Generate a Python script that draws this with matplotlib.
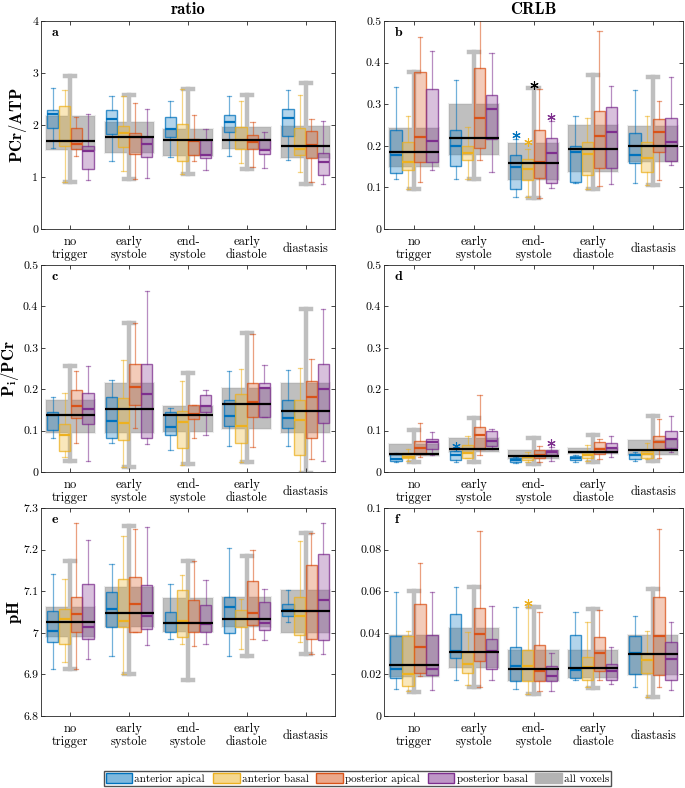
import numpy as np
import matplotlib
matplotlib.use("Agg")
import matplotlib.pyplot as plt
from matplotlib.colors import to_rgba
from matplotlib.patches import Patch
from matplotlib.ticker import FuncFormatter

plt.rcParams['font.family'] = 'serif'
plt.rcParams['font.serif'] = ['cmr10']
plt.rcParams['mathtext.fontset'] = 'cm'
plt.rcParams['axes.formatter.use_mathtext'] = True

triggers = ["no\ntrigger", "early\nsystole", "end-\nsystole", "early\ndiastole", "diastasis"]
regions = ["anterior apical", "anterior basal", "posterior apical", "posterior basal", "all voxels"]
colors = ["#0072BD", "#EDB120", "#D95319", "#7E2F8E"]

# rows = triggers, columns = lower whisker, q1, median, q3, upper whisker
# a: PCr/ATP ratio
a_ant_apical = [[1.56, 1.94, 2.22, 2.29, 2.71], [1.31, 1.83, 2.11, 2.28, 2.56], [1.39, 1.77, 1.93, 2.16, 2.46],
                [1.40, 1.86, 2.05, 2.19, 2.56], [1.32, 1.78, 2.14, 2.30, 2.67]]
a_ant_basal = [[0.91, 1.60, 1.69, 2.37, 2.67], [1.11, 1.57, 1.84, 1.99, 2.56], [1.06, 1.31, 1.72, 2.01, 2.69],
               [1.26, 1.54, 1.71, 1.96, 2.46], [1.10, 1.43, 1.54, 1.94, 2.58]]
a_post_apical = [[1.40, 1.53, 1.63, 1.94, 2.16], [0.97, 1.45, 1.76, 1.85, 2.42], [1.30, 1.42, 1.69, 1.74, 2.19],
                 [1.19, 1.54, 1.68, 1.81, 2.06], [0.91, 1.37, 1.62, 1.89, 2.12]]
a_post_basal = [[0.94, 1.15, 1.50, 1.59, 2.22], [0.99, 1.38, 1.63, 1.76, 2.30], [1.14, 1.37, 1.42, 1.71, 1.92],
                [1.17, 1.44, 1.52, 1.74, 1.87], [0.87, 1.04, 1.28, 1.47, 2.08]]
a_all = [[0.91, 1.52, 1.69, 2.17, 2.95], [0.96, 1.47, 1.76, 2.06, 2.58], [1.06, 1.41, 1.71, 1.93, 2.69],
         [1.16, 1.53, 1.72, 1.96, 2.57], [0.87, 1.36, 1.60, 1.98, 2.81]]

# b: CRLB of PCr/ATP
b_ant_apical = [[0.119, 0.135, 0.177, 0.238, 0.341], [0.120, 0.152, 0.200, 0.238, 0.358], [0.078, 0.096, 0.150, 0.177, 0.216],
                [0.110, 0.114, 0.185, 0.200, 0.272], [0.110, 0.159, 0.177, 0.230, 0.333]]
b_ant_basal = [[0.095, 0.141, 0.161, 0.208, 0.272], [0.120, 0.167, 0.183, 0.200, 0.244], [0.078, 0.118, 0.145, 0.169, 0.192],
               [0.095, 0.131, 0.181, 0.208, 0.266], [0.106, 0.136, 0.170, 0.208, 0.272]]
b_post_apical = [[0.114, 0.160, 0.220, 0.377, 0.462], [0.167, 0.194, 0.268, 0.386, 0.520], [0.074, 0.123, 0.160, 0.238, 0.336],
                 [0.103, 0.147, 0.224, 0.284, 0.476], [0.118, 0.186, 0.232, 0.264, 0.307]]
b_post_basal = [[0.142, 0.160, 0.212, 0.336, 0.429], [0.138, 0.216, 0.288, 0.323, 0.424], [0.098, 0.111, 0.182, 0.219, 0.260],
                [0.108, 0.147, 0.232, 0.294, 0.344], [0.154, 0.164, 0.208, 0.266, 0.366]]
b_all = [[0.095, 0.150, 0.186, 0.243, 0.378], [0.120, 0.179, 0.218, 0.300, 0.425], [0.074, 0.118, 0.158, 0.206, 0.340],
         [0.095, 0.138, 0.193, 0.250, 0.370], [0.106, 0.162, 0.200, 0.248, 0.366]]
b_fliers = [(2, 0, 0.226), (2, 1, 0.210), (2, 3, 0.270), (2, 4, 0.346)]

# c: Pi/PCr ratio
c_ant_apical = [[0.082, 0.102, 0.138, 0.144, 0.181], [0.071, 0.082, 0.124, 0.180, 0.223], [0.054, 0.090, 0.109, 0.144, 0.155],
                [0.064, 0.110, 0.135, 0.173, 0.244], [0.063, 0.107, 0.131, 0.173, 0.246]]
c_ant_basal = [[0.036, 0.050, 0.090, 0.115, 0.192], [0.011, 0.078, 0.119, 0.179, 0.270], [0.016, 0.059, 0.120, 0.148, 0.219],
               [0.024, 0.069, 0.112, 0.188, 0.250], [-0.002, 0.042, 0.125, 0.173, 0.252]]
c_post_apical = [[0.071, 0.131, 0.160, 0.197, 0.244], [0.107, 0.163, 0.206, 0.262, 0.359], [0.081, 0.129, 0.139, 0.163, 0.163],
                 [0.061, 0.134, 0.168, 0.216, 0.334], [0.031, 0.083, 0.180, 0.219, 0.273]]
c_post_basal = [[0.026, 0.115, 0.151, 0.192, 0.255], [0.068, 0.083, 0.188, 0.260, 0.437], [0.089, 0.144, 0.159, 0.185, 0.199],
                [0.134, 0.134, 0.203, 0.216, 0.259], [0.027, 0.119, 0.201, 0.262, 0.393]]
c_all = [[0.026, 0.094, 0.138, 0.174, 0.256], [0.011, 0.093, 0.151, 0.215, 0.361], [0.019, 0.097, 0.137, 0.160, 0.238],
         [0.024, 0.105, 0.165, 0.202, 0.336], [-0.002, 0.093, 0.148, 0.215, 0.393]]

# d: CRLB of Pi/PCr
d_ant_apical = [[0.024, 0.027, 0.032, 0.043, 0.046], [0.025, 0.028, 0.042, 0.050, 0.050], [0.022, 0.023, 0.028, 0.035, 0.037],
                [0.023, 0.030, 0.034, 0.039, 0.040], [0.026, 0.032, 0.040, 0.044, 0.048]]
d_ant_basal = [[0.027, 0.033, 0.037, 0.045, 0.056], [0.035, 0.035, 0.046, 0.066, 0.086], [0.025, 0.030, 0.036, 0.041, 0.048],
               [0.026, 0.034, 0.042, 0.048, 0.066], [0.031, 0.035, 0.044, 0.050, 0.069]]
d_post_apical = [[0.036, 0.043, 0.059, 0.075, 0.119], [0.040, 0.056, 0.090, 0.109, 0.187], [0.023, 0.035, 0.041, 0.052, 0.063],
                 [0.031, 0.043, 0.056, 0.072, 0.079], [0.035, 0.055, 0.072, 0.088, 0.127]]
d_post_basal = [[0.040, 0.056, 0.072, 0.080, 0.097], [0.055, 0.063, 0.074, 0.098, 0.104], [0.027, 0.040, 0.048, 0.053, 0.060],
                [0.037, 0.048, 0.059, 0.071, 0.088], [0.048, 0.057, 0.080, 0.100, 0.135]]
d_all = [[0.023, 0.038, 0.044, 0.067, 0.101], [0.025, 0.048, 0.056, 0.082, 0.131], [0.020, 0.031, 0.039, 0.052, 0.083],
         [0.024, 0.044, 0.048, 0.058, 0.089], [0.026, 0.040, 0.052, 0.077, 0.135]]
d_fliers = [(1, 0, 0.063), (2, 3, 0.070)]

# e: pH
e_ant_apical = [[6.913, 6.978, 7.004, 7.053, 7.142], [6.945, 7.013, 7.057, 7.099, 7.165], [6.985, 7.003, 7.024, 7.049, 7.117],
                [6.945, 6.999, 7.063, 7.085, 7.204], [7.027, 7.040, 7.055, 7.070, 7.103]]
e_ant_basal = [[6.930, 6.974, 7.033, 7.057, 7.129], [6.900, 7.013, 7.029, 7.129, 7.233], [6.973, 6.991, 7.029, 7.103, 7.138],
               [6.962, 7.015, 7.033, 7.056, 7.081], [6.977, 6.995, 7.041, 7.087, 7.220]]
e_post_apical = [[6.913, 7.002, 7.044, 7.085, 7.263], [7.003, 7.003, 7.069, 7.134, 7.249], [6.968, 7.001, 7.024, 7.078, 7.172],
                 [6.986, 7.019, 7.047, 7.125, 7.198], [6.948, 6.984, 7.052, 7.162, 7.240]]
e_post_basal = [[6.936, 6.986, 7.015, 7.117, 7.222], [6.970, 7.008, 7.041, 7.114, 7.255], [6.973, 7.003, 7.020, 7.067, 7.126],
                [6.982, 7.007, 7.024, 7.073, 7.106], [6.948, 6.982, 7.079, 7.189, 7.263]]
e_all = [[6.912, 6.989, 7.027, 7.061, 7.173], [6.900, 7.013, 7.048, 7.111, 7.257], [6.886, 7.003, 7.024, 7.083, 7.173],
         [6.945, 7.015, 7.033, 7.085, 7.185], [6.948, 7.000, 7.052, 7.103, 7.240]]

# f: CRLB of pH
f_ant_apical = [[0.0132, 0.0185, 0.0228, 0.0384, 0.0598], [0.0175, 0.0281, 0.0312, 0.0490, 0.0622], [0.0132, 0.0169, 0.0241, 0.0334, 0.0522],
                [0.0172, 0.0185, 0.0219, 0.0391, 0.0502], [0.0140, 0.0204, 0.0305, 0.0387, 0.0481]]
f_ant_basal = [[0.0119, 0.0145, 0.0203, 0.0384, 0.0408], [0.0151, 0.0209, 0.0251, 0.0309, 0.0405], [0.0108, 0.0169, 0.0241, 0.0317, 0.0522],
               [0.0140, 0.0175, 0.0236, 0.0286, 0.0453], [0.0092, 0.0207, 0.0268, 0.0301, 0.0408]]
f_post_apical = [[0.0191, 0.0207, 0.0330, 0.0537, 0.0735], [0.0140, 0.0265, 0.0394, 0.0521, 0.0891], [0.0121, 0.0169, 0.0214, 0.0339, 0.0500],
                 [0.0175, 0.0215, 0.0304, 0.0378, 0.0510], [0.0140, 0.0199, 0.0386, 0.0574, 0.0899]]
f_post_basal = [[0.0124, 0.0195, 0.0228, 0.0391, 0.0598], [0.0175, 0.0228, 0.0312, 0.0371, 0.0531], [0.0119, 0.0166, 0.0193, 0.0241, 0.0304],
                [0.0156, 0.0175, 0.0215, 0.0252, 0.0330], [0.0127, 0.0175, 0.0273, 0.0357, 0.0453]]
f_all = [[0.0116, 0.0188, 0.0244, 0.0389, 0.0601], [0.0140, 0.0233, 0.0309, 0.0421, 0.0622], [0.0105, 0.0169, 0.0225, 0.0317, 0.0522],
         [0.0137, 0.0185, 0.0233, 0.0317, 0.0514], [0.0092, 0.0199, 0.0296, 0.0389, 0.0611]]
f_fliers = [(2, 1, 0.0542)]

ASTERISK = (6, 2, 0)


def to_stats(rows, fliers, k):
    stats = []
    for i, (lo, q1, med, q3, hi) in enumerate(rows):
        fl = [v for (g, s, v) in fliers if g == i and s == k]
        stats.append(dict(whislo=lo, q1=q1, med=med, q3=q3, whishi=hi, fliers=fl))
    return stats


def draw_panel(ax, series, all_rows, fliers, ylim, yticks, letter):
    pos = np.arange(1, 6)
    # all voxels: wide grey box behind
    ax.bxp(to_stats(all_rows, fliers, 4), positions=pos, widths=0.84, patch_artist=True,
           manage_ticks=False, capwidths=0.17,
           boxprops=dict(facecolor=to_rgba('0.5', 0.5), edgecolor=to_rgba('0.5', 0.15), linewidth=1.5, zorder=1),
           medianprops=dict(color='k', linewidth=1.6, zorder=5),
           whiskerprops=dict(color='0.75', linewidth=3.2, zorder=1.5),
           capprops=dict(color='0.75', linewidth=3.2, zorder=1.5),
           flierprops=dict(marker=ASTERISK, markeredgecolor='k', markersize=6, markeredgewidth=0.8,
                           linestyle='none'))
    offsets = [-0.3, -0.1, 0.1, 0.3]
    for k, rows in enumerate(series):
        c = colors[k]
        ax.bxp(to_stats(rows, fliers, k), positions=pos + offsets[k], widths=0.19, patch_artist=True,
               manage_ticks=False, capwidths=0.075,
               boxprops=dict(facecolor=to_rgba(c, 0.3), edgecolor=to_rgba(c, 0.75), linewidth=1.0, zorder=3),
               medianprops=dict(color=c, linewidth=1.6, zorder=4),
               whiskerprops=dict(color=to_rgba(c, 0.55), linewidth=0.9, zorder=2),
               capprops=dict(color=to_rgba(c, 0.55), linewidth=0.9, zorder=2),
               flierprops=dict(marker=ASTERISK, markeredgecolor=c, markersize=6, markeredgewidth=0.8,
                               linestyle='none'))
    ax.set_xlim(0.5, 5.5)
    ax.set_ylim(*ylim)
    ax.set_yticks(yticks)
    ax.yaxis.set_major_formatter(FuncFormatter(lambda v, p: f"{v:g}"))
    ax.set_xticks(pos)
    ax.set_xticklabels(triggers, fontsize=9, linespacing=1.15, va='center')
    ax.tick_params(axis='x', pad=14)
    ax.tick_params(axis='y', labelsize=8.5, pad=2)
    ax.tick_params(direction='in', top=True, right=True, length=3, width=0.6, color='#262626')
    for sp in ax.spines.values():
        sp.set_color('#262626')
        sp.set_linewidth(0.6)
    ax.text(0.035, 0.94, letter, transform=ax.transAxes, fontsize=10, fontname='cmb10',
            ha='left', va='center', zorder=6)


fig = plt.figure(figsize=(6.85, 7.88), dpi=100)
W, H = 685.0, 788.0
rows_px = [(21, 229), (265, 472), (508, 716)]
cols_px = [(41, 335), (384, 683)]
axes = {}
for r, (t, b) in enumerate(rows_px):
    for c, (l, rr) in enumerate(cols_px):
        axes[(r, c)] = fig.add_axes([l / W, 1 - b / H, (rr - l) / W, (b - t) / H])

draw_panel(axes[(0, 0)], [a_ant_apical, a_ant_basal, a_post_apical, a_post_basal], a_all, [],
           (0, 4), [0, 1, 2, 3, 4], 'a')
draw_panel(axes[(0, 1)], [b_ant_apical, b_ant_basal, b_post_apical, b_post_basal], b_all, b_fliers,
           (0, 0.5), np.arange(0, 0.51, 0.1), 'b')
draw_panel(axes[(1, 0)], [c_ant_apical, c_ant_basal, c_post_apical, c_post_basal], c_all, [],
           (0, 0.5), np.arange(0, 0.51, 0.1), 'c')
draw_panel(axes[(1, 1)], [d_ant_apical, d_ant_basal, d_post_apical, d_post_basal], d_all, d_fliers,
           (0, 0.5), np.arange(0, 0.51, 0.1), 'd')
draw_panel(axes[(2, 0)], [e_ant_apical, e_ant_basal, e_post_apical, e_post_basal], e_all, [],
           (6.8, 7.3), np.arange(6.8, 7.31, 0.1), 'e')
draw_panel(axes[(2, 1)], [f_ant_apical, f_ant_basal, f_post_apical, f_post_basal], f_all, f_fliers,
           (0, 0.1), np.arange(0, 0.101, 0.02), 'f')

axes[(0, 0)].set_title('ratio', fontname='cmb10', fontsize=12, pad=5)
axes[(0, 1)].set_title('CRLB', fontname='cmb10', fontsize=12, pad=5)

ylabels = [(0, r'$\mathbf{PCr/ATP}$', -0.077), (1, r'$\mathbf{P_i/PCr}$', -0.104), (2, r'$\mathbf{pH}$', -0.09)]
for r, lab, x in ylabels:
    ax = axes[(r, 0)]
    ax.set_ylabel(lab, fontsize=12, va='center')
    ax.yaxis.set_label_coords(x, 0.5)

handles = [Patch(facecolor=to_rgba(c, 0.5), edgecolor=c, linewidth=1.0) for c in colors]
handles.append(Patch(facecolor='0.7', edgecolor='0.7', linewidth=1.0))
fig.legend(handles, regions, loc='center', bbox_to_anchor=(0.522, 0.012), ncol=5, fontsize=8,
           frameon=True, fancybox=False, edgecolor='#262626', handlelength=2.4, handleheight=1.0,
           handletextpad=0.2, columnspacing=0.7, borderpad=0.15, borderaxespad=0)

fig.savefig('out.png', dpi=100)
